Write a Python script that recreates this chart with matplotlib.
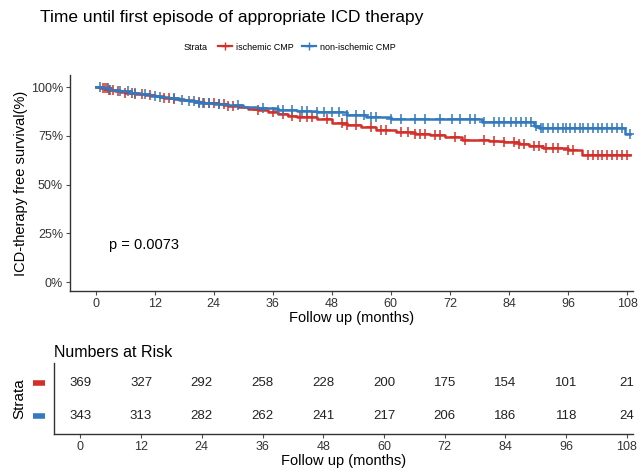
import numpy as np
import matplotlib
matplotlib.use("Agg")
import matplotlib.pyplot as plt
from matplotlib.lines import Line2D
import matplotlib.transforms as mtransforms

plt.rcParams['font.family'] = ['Liberation Sans', 'DejaVu Sans']

# step curves (months, survival fraction)
red_t = [0, 1, 2.5, 4, 6, 8, 10, 12, 14, 16, 18, 20, 22, 25, 27, 29, 31, 33, 35,
         37, 39, 41, 45, 48, 51, 54, 57, 61, 65, 68, 71, 74.5, 80, 83, 86, 88, 91,
         96, 98.8, 108.5]
red_s = [1.0, 0.993, 0.986, 0.979, 0.972, 0.966, 0.959, 0.953, 0.946, 0.939, 0.932,
         0.925, 0.918, 0.912, 0.905, 0.897, 0.889, 0.881, 0.874, 0.862, 0.852, 0.845,
         0.835, 0.815, 0.808, 0.798, 0.782, 0.768, 0.760, 0.752, 0.744, 0.728, 0.722,
         0.716, 0.708, 0.700, 0.690, 0.677, 0.651, 0.651]
blue_t = [0, 1.5, 3, 5, 7, 9, 11, 13, 15, 17, 19, 21, 24, 27, 30, 33, 37, 41, 45,
          51, 55, 60, 78.5, 89, 90, 107.6, 108.5]
blue_s = [1.0, 0.993, 0.986, 0.979, 0.971, 0.963, 0.956, 0.949, 0.942, 0.935, 0.928,
          0.921, 0.913, 0.906, 0.898, 0.891, 0.884, 0.878, 0.872, 0.855, 0.845, 0.836,
          0.822, 0.800, 0.788, 0.758, 0.758]

red_cens = [1.5, 2, 2.3, 2.7, 3, 3.5, 4.5, 6, 7.5, 8, 9.5, 11, 14, 15, 16, 21, 22, 23,
            24, 25, 26, 27, 28, 33, 36, 38, 40, 41.5, 43, 44, 47, 50, 51, 53, 56, 58,
            59, 62, 63.5, 65, 66, 67, 69, 70, 73, 75, 79, 81, 83, 85, 86, 87, 89, 90,
            91.5, 93, 94, 96, 97, 100, 101, 102, 103, 104, 105, 106, 107, 108]
blue_cens = [1, 2.5, 5, 6.5, 8, 10, 12, 13, 16, 17.5, 19, 20, 21, 21.8, 23, 25, 29, 34,
             37, 38, 40, 42, 43, 45, 46.5, 48, 49.5, 51, 53, 54.5, 56, 57, 60, 62, 65,
             67, 70, 72.5, 74, 76, 77, 79, 81, 82, 83, 84.5, 85.5, 86.5, 87.5, 88.5,
             89.5, 90.5, 91, 92, 93, 94, 95, 95.5, 96.5, 97.5, 98.5, 99, 100, 101, 102,
             103, 104, 105, 106, 107, 108.5]

groups = ['ischemic CMP', 'non-ischemic CMP']
risk_times = [0, 12, 24, 36, 48, 60, 72, 84, 96, 108]
risk_red = [369, 327, 292, 258, 228, 200, 175, 154, 101, 21]
risk_blue = [343, 313, 282, 262, 241, 217, 206, 186, 118, 24]
p_text = 'p = 0.0073'

RED = '#D3302A'
BLUE = '#3279BD'
GREY = '#4D4D4D'


def surv_at(t, times, surv):
    i = np.searchsorted(times, t, side='right') - 1
    return np.asarray(surv)[i]


fig = plt.figure(figsize=(6.39, 4.75), dpi=100)
ax = fig.add_axes([0.1095, 0.3874, 0.8811, 0.4546])

for t, s, c, col in [(red_t, red_s, red_cens, RED), (blue_t, blue_s, blue_cens, BLUE)]:
    ax.step(t, s, where='post', color=col, lw=1.8)
    ax.plot(c, surv_at(c, t, s), ls='none', marker='+', ms=6.5, mew=1.1, color=col)

ax.set_xlim(-5.2, 109.2)
ax.set_ylim(-0.046, 1.062)
ax.set_xticks(risk_times)
ax.set_yticks([0, 0.25, 0.5, 0.75, 1.0])
ax.set_yticklabels(['0%', '25%', '50%', '75%', '100%'])
ax.set_xlabel('Follow up (months)', fontsize=10.5, labelpad=1)
ax.set_ylabel('ICD-therapy free survival(%)', fontsize=10.5, labelpad=2)
ax.text(2.8, 0.19, p_text, fontsize=10.5, va='center', ha='left')

ax.spines['top'].set_visible(False)
ax.spines['right'].set_visible(False)
ax.tick_params(axis='both', labelsize=9, colors=GREY, length=3, pad=2)
ax.tick_params(axis='both', labelcolor='#333333')
for sp in ['left', 'bottom']:
    ax.spines[sp].set_color('#333333')
    ax.spines[sp].set_linewidth(1.0)

fig.text(0.063, 0.963, 'Time until first episode of appropriate ICD therapy',
         fontsize=12.5, va='center', ha='left')

# legend
fig.text(0.287, 0.901, 'Strata', fontsize=6.5, va='center', ha='left')
handles = [Line2D([], [], color=RED, lw=1.6, marker='+', ms=6),
           Line2D([], [], color=BLUE, lw=1.6, marker='+', ms=6)]
fig.legend(handles, groups, loc='center left', bbox_to_anchor=(0.336, 0.901),
           ncol=2, frameon=False, fontsize=6.5, handlelength=1.5, handletextpad=0.5,
           columnspacing=0.9, borderaxespad=0)

# risk table
rax = fig.add_axes([0.0845, 0.0863, 0.9061, 0.1495])
rax.set_xlim(-5.2, 109.2)
rax.set_ylim(0, 1)
row_y = [0.718, 0.254]
for y, vals in zip(row_y, [risk_red, risk_blue]):
    for t, v in zip(risk_times, vals):
        rax.text(t, y, str(v), ha='center', va='center', fontsize=9.5, color='#222222')
rax.set_xticks(risk_times)
rax.set_yticks([])
rax.spines['top'].set_visible(False)
rax.spines['right'].set_visible(False)
for sp in ['left', 'bottom']:
    rax.spines[sp].set_color('#333333')
    rax.spines[sp].set_linewidth(1.0)
rax.tick_params(axis='x', labelsize=9, colors=GREY, length=3, pad=2)
rax.tick_params(axis='x', labelcolor='#333333')
rax.set_xlabel('Follow up (months)', fontsize=10.5, labelpad=1)
rax.set_title('Numbers at Risk', loc='left', fontsize=11.5, pad=4)
rax.set_ylabel('Strata', fontsize=11, labelpad=20)

trans = mtransforms.blended_transform_factory(rax.transAxes, rax.transData)
for y, col in zip(row_y, [RED, BLUE]):
    rax.add_line(Line2D([-0.037, -0.015], [y, y], transform=trans, color=col,
                        lw=4, clip_on=False, solid_capstyle='butt'))

fig.savefig('out.png', dpi=100)
